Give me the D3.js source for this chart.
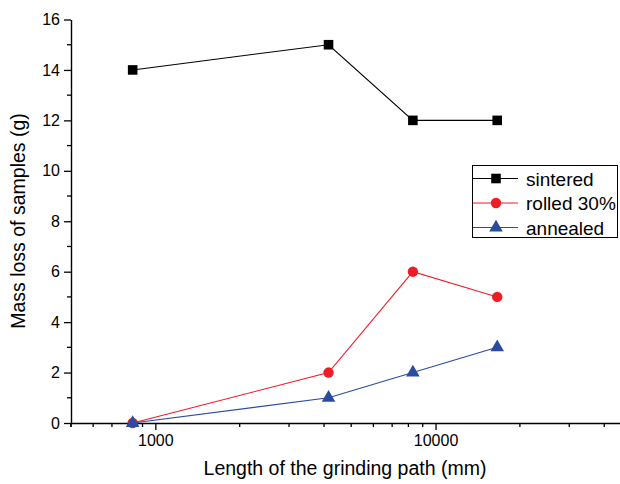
<!DOCTYPE html>
<html>
<head>
<script src="https://d3js.org/d3.v7.min.js"></script>
<style>
  body { margin: 0; background: #fff; }
  text { font-family: "Liberation Sans", Arial, sans-serif; }
</style>
</head>
<body>
<div id="chart"></div>
<script>
const xValues = [830, 4150, 8300, 16600]
const sintered = [14, 15, 12, 12]
const rolled = [0, 2, 6, 5]
const annealed = [0, 1, 2, 3]
const seriesNames = ['sintered', 'rolled 30%', 'annealed']
const yTicks = [0, 2, 4, 6, 8, 10, 12, 14, 16]
const xTicks = [1000, 10000]

const w = 620, h = 484

const svg = d3.select('#chart').append('svg')
  .attr('width', w).attr('height', h)

const x = d3.scaleLog().domain([500, 50000]).range([71, 631.4])
const y = d3.scaleLinear().domain([0, 16]).range([423, 19.5])

// y axis
const yAxis = d3.axisLeft(y).tickValues(yTicks).tickSize(7).tickSizeOuter(0).tickPadding(4)
const gy = svg.append('g').attr('transform', 'translate(71,0)').call(yAxis)
gy.selectAll('.tick line').attr('stroke', '#000').attr('stroke-width', 1.3)
gy.append('g').selectAll('line')
  .data(d3.range(1, 16, 2)).enter().append('line')
  .attr('x1', -4).attr('x2', 0)
  .attr('y1', d => y(d)).attr('y2', d => y(d))
  .attr('stroke', '#000').attr('stroke-width', 1.3)
gy.selectAll('.tick text').style('font-size', '16px').attr('fill', '#000')
gy.select('.domain').attr('stroke-width', 1.4)

// x axis
const minor = []
for (let e = 100; e <= 10000; e *= 10) {
  for (let k = 2; k <= 9; k++) {
    const v = k * e
    if (v >= 500 && v <= 50000) minor.push(v)
  }
}
minor.push(500)
const xAxis = d3.axisBottom(x).tickValues(xTicks).tickFormat(d3.format('d'))
  .tickSize(7).tickSizeOuter(0).tickPadding(5)
const gx = svg.append('g').attr('transform', 'translate(0,423)').call(xAxis)
gx.selectAll('.tick line').attr('stroke-width', 1.3)
gx.append('g').selectAll('line')
  .data(minor).enter().append('line')
  .attr('x1', d => x(d)).attr('x2', d => x(d))
  .attr('y1', 0).attr('y2', 4)
  .attr('stroke', '#000').attr('stroke-width', 1.3)
gx.selectAll('.tick text').style('font-size', '16px').attr('fill', '#000')
gx.select('.domain').attr('stroke-width', 1.4)

// axis titles
svg.append('text')
  .attr('x', 345).attr('y', 475)
  .attr('text-anchor', 'middle')
  .style('font-size', '19.5px')
  .text('Length of the grinding path (mm)')

svg.append('text')
  .attr('transform', 'translate(25,221) rotate(-90)')
  .attr('text-anchor', 'middle')
  .style('font-size', '19.5px')
  .text('Mass loss of samples (g)')

const colors = ['#000000', '#ee1c24', '#2a4b9f']
const symbols = [d3.symbolSquare, d3.symbolCircle, d3.symbolTriangle]
const symSize = [92, 85, 80]
const allSeries = [sintered, rolled, annealed]

const line = d3.line().x(d => x(d[0])).y(d => y(d[1]))

allSeries.forEach((vals, i) => {
  const pts = xValues.map((xv, j) => [xv, vals[j]])
  svg.append('path')
    .datum(pts)
    .attr('d', line)
    .attr('fill', 'none')
    .attr('stroke', colors[i])
    .attr('stroke-width', 1.1)
  svg.append('g').selectAll('path')
    .data(pts).enter().append('path')
    .attr('transform', d => 'translate(' + x(d[0]) + ',' + y(d[1]) + ')')
    .attr('d', d3.symbol().type(symbols[i]).size(symSize[i]))
    .attr('fill', colors[i])
})

// legend
const lg = svg.append('g')
lg.append('rect')
  .attr('x', 472.5).attr('y', 165.5)
  .attr('width', 145).attr('height', 72)
  .attr('fill', '#fff').attr('stroke', '#000').attr('stroke-width', 1)
seriesNames.forEach((name, i) => {
  const ly = 178.5 + i * 24.5
  lg.append('line')
    .attr('x1', 473).attr('x2', 518)
    .attr('y1', ly).attr('y2', ly)
    .attr('stroke', colors[i]).attr('stroke-width', 1.1)
  lg.append('path')
    .attr('transform', 'translate(496,' + ly + ')')
    .attr('d', d3.symbol().type(symbols[i]).size(symSize[i]))
    .attr('fill', colors[i])
  lg.append('text')
    .attr('x', 526).attr('y', ly + 7)
    .style('font-size', '19px')
    .text(name)
})
</script>
</body>
</html>
